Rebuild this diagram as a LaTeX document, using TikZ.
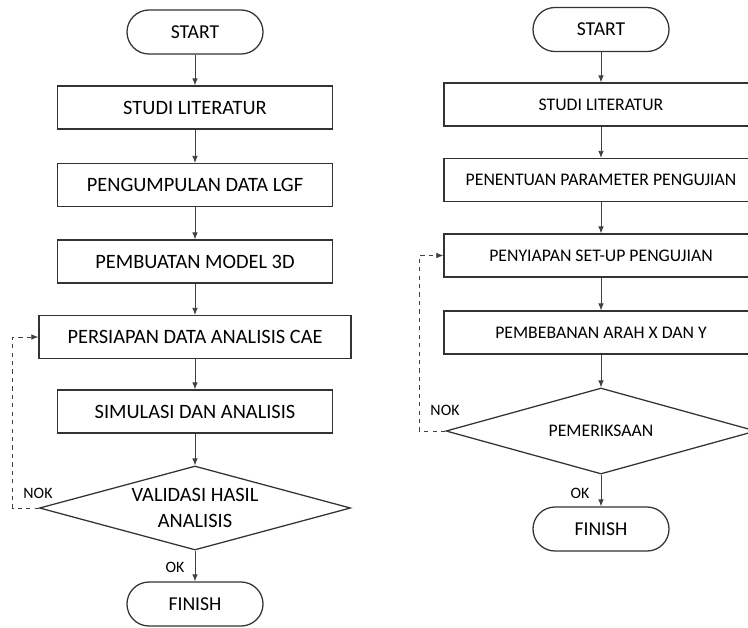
\documentclass[tikz,border=0pt]{standalone}
\usepackage{fontspec}
\setmainfont{Carlito}
\usetikzlibrary{shapes.geometric,arrows.meta}

\begin{document}
\begin{tikzpicture}[x=0.025cm, y=-0.025cm, >={Latex[length=5pt,width=4pt]},
    termbox/.style={draw=black!80, line width=0.9pt, rounded corners=0.55cm,
      minimum width=3.4cm, minimum height=1.1cm, font=\fontsize{14}{17}\selectfont},
    stepbox/.style={draw=black!80, line width=0.9pt, minimum height=1.075cm, inner sep=2pt},
    checkbox/.style={draw=black!80, line width=0.9pt, diamond, aspect=3.7, inner sep=0pt, align=center},
    flowline/.style={->, draw=black!75, line width=0.6pt},
    backline/.style={->, draw=black!75, line width=0.6pt, dashed},
    tagtext/.style={font=\fontsize{11.3}{13}\selectfont}]
    \def \lx {195} % left chart axis
    \def \rx {601} % right chart axis
    \useasboundingbox (0,0) rectangle (748,627);
    \clip (0,0) rectangle (748,627);

    % left chart
    \begin{scope}[every node/.append style={font=\fontsize{14.5}{18}\selectfont}]
    \node[termbox] (ls) at (\lx,32) {START};
    \node[stepbox, minimum width=6.875cm] (l1) at (\lx,107.5) {STUDI LITERATUR};
    \node[stepbox, minimum width=6.875cm] (l2) at (\lx,185) {PENGUMPULAN DATA LGF};
    \node[stepbox, minimum width=6.875cm] (l3) at (\lx,261.5) {PEMBUATAN MODEL 3D};
    \node[stepbox, minimum width=7.8cm] (l4) at (\lx,337) {PERSIAPAN DATA ANALISIS CAE};
    \node[stepbox, minimum width=6.875cm] (l5) at (\lx,411.5) {SIMULASI DAN ANALISIS};
    \node[checkbox, minimum width=7.775cm, minimum height=2.1cm] (lv) at (\lx,508)
      {VALIDASI HASIL\\ANALISIS};
    \node[termbox] (lf) at (\lx,604) {FINISH};
    \end{scope}
    \draw[flowline] (ls) -- (l1);
    \draw[flowline] (l1) -- (l2);
    \draw[flowline] (l2) -- (l3);
    \draw[flowline] (l3) -- (l4);
    \draw[flowline] (l4) -- (l5);
    \draw[flowline] (l5) -- (lv);
    \draw[flowline] (lv) -- (lf);
    \draw[backline] (lv.west) -- ++(-26,0) |- (l4.west);
    \node[tagtext] (lnok) at (38,493) {NOK};
    \node[tagtext] (lok) at (175,567) {OK};

    % right chart
    \begin{scope}[every node/.append style={font=\fontsize{12.6}{15}\selectfont}]
    \node[termbox] (rs) at (\rx,29.5) {START};
    \node[stepbox, minimum width=7.85cm] (r1) at (\rx,104.5) {STUDI LITERATUR};
    \node[stepbox, minimum width=7.85cm] (r2) at (\rx,180) {PENENTUAN PARAMETER PENGUJIAN};
    \node[stepbox, minimum width=7.85cm] (r3) at (\rx,255.5) {PENYIAPAN SET-UP PENGUJIAN};
    \node[stepbox, minimum width=7.85cm] (r4) at (\rx,332.5) {PEMBEBANAN ARAH X DAN Y};
    \node[checkbox, minimum width=7.75cm, minimum height=2.15cm] (rv) at (\rx,431) {PEMERIKSAAN};
    \node[termbox] (rf) at (\rx,529) {FINISH};
    \end{scope}
    \draw[flowline] (rs) -- (r1);
    \draw[flowline] (r1) -- (r2);
    \draw[flowline] (r2) -- (r3);
    \draw[flowline] (r3) -- (r4);
    \draw[flowline] (r4) -- (rv);
    \draw[flowline] (rv) -- (rf);
    \draw[backline] (rv.west) -- ++(-26,0) |- (r3.west);
    \node[tagtext] (rnok) at (445,410) {NOK};
    \node[tagtext] (rok) at (580,493) {OK};
\end{tikzpicture}
\end{document}
